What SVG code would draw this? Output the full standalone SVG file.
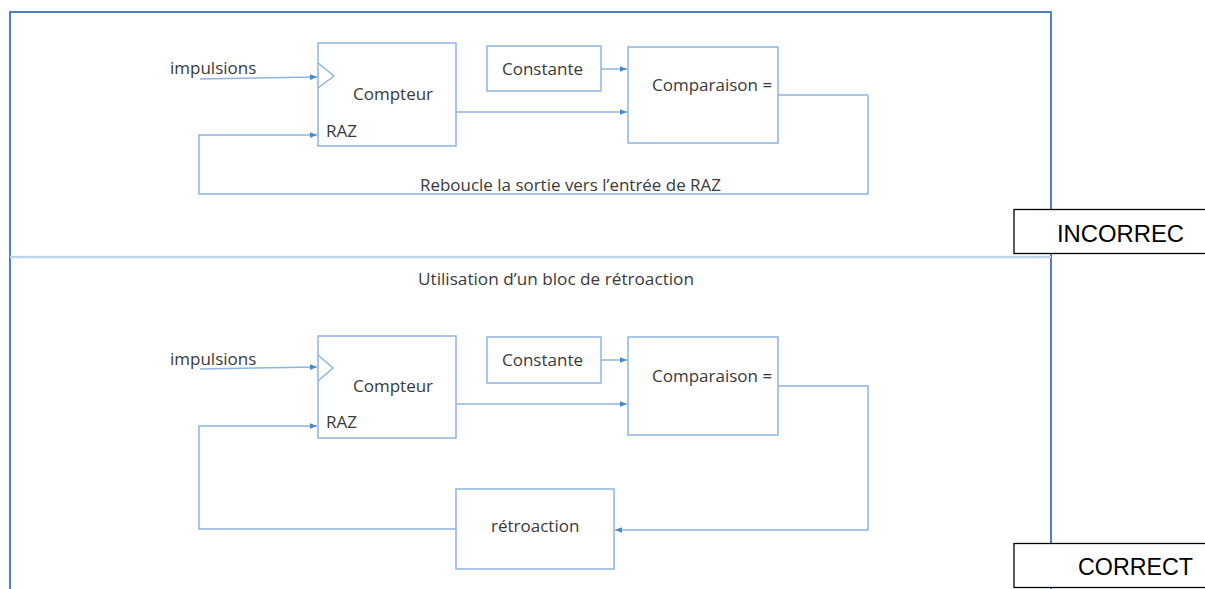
<svg xmlns="http://www.w3.org/2000/svg" width="1205" height="589" viewBox="0 0 1205 589">
<style>
.box{fill:#fff;stroke:#8fb4e0;stroke-width:1.5}
.wire{fill:none;stroke:#8fb4e0;stroke-width:1.5}
.t{font-family:"Open Sans","Liberation Sans",sans-serif;font-size:17px;fill:#3a3a3a}
.s{font-family:"Open Sans","Liberation Sans",sans-serif;font-size:15.5px;fill:#3a3a3a}
.lbl{fill:#fff;stroke:#000;stroke-width:1.3}
.lt{font-family:"Liberation Sans",Arial,sans-serif;font-size:23.5px;fill:#000}
</style>
<defs>
<marker id="ah" viewBox="0 0 10 10" refX="10" refY="5" markerWidth="7" markerHeight="7" markerUnits="userSpaceOnUse" orient="auto">
<path d="M0,1 L10,5 L0,9 z" fill="#4a86c8"/>
</marker>
</defs>
<rect width="1205" height="589" fill="#fff"/>
<g id="frame">
<path d="M10,589 V12 H1051 V589" fill="none" stroke="#4f81bd" stroke-width="2"/>
<line x1="10" y1="257" x2="1051" y2="257" stroke="#bcd5ee" stroke-width="2.5"/>
</g>
<g id="connectors">
<path class="wire" d="M200,79 L317,77" marker-end="url(#ah)"/>
<path class="wire" d="M868,95 H778 M868,95 V194 H199 V135 H317" marker-end="url(#ah)"/>
<path class="wire" d="M601,69 H627" marker-end="url(#ah)"/>
<path class="wire" d="M456,112 H627" marker-end="url(#ah)"/>
<path class="wire" d="M200,369 L317,367" marker-end="url(#ah)"/>
<path class="wire" d="M456,529 H199 V426 H317" marker-end="url(#ah)"/>
<path class="wire" d="M601,360 H627" marker-end="url(#ah)"/>
<path class="wire" d="M456,404 H627" marker-end="url(#ah)"/>
<path class="wire" d="M778,386 H868 V530 H615" marker-end="url(#ah)"/>
</g>
<g id="top-compteur">
<rect class="box" x="318" y="43" width="138" height="103"/>
<path class="wire" d="M318,63 L334,76 L318,88"/>
<text class="t" x="353" y="100">Compteur</text>
<text class="t" x="326" y="137">RAZ</text>
</g>
<g id="top-impulsions"><text class="t" x="170" y="74">impulsions</text></g>
<g id="top-constante">
<rect class="box" x="487" y="46" width="114" height="45"/>
<text class="t" x="502" y="75">Constante</text>
</g>
<g id="top-comparaison">
<rect class="box" x="628" y="47" width="150" height="96"/>
<text class="t" x="652" y="91">Comparaison =</text>
</g>
<g id="top-caption"><text class="s" x="420" y="191" textLength="301" lengthAdjust="spacingAndGlyphs">Reboucle la sortie vers l’entrée de RAZ</text></g>
<g id="incorrect">
<rect class="lbl" x="1014" y="209.5" width="200" height="44"/>
<text class="lt" x="1057" y="242" textLength="127" lengthAdjust="spacingAndGlyphs">INCORREC</text>
</g>
<g id="mid-caption"><text class="s" x="418" y="285" textLength="276" lengthAdjust="spacingAndGlyphs">Utilisation d’un bloc de rétroaction</text></g>
<g id="bot-compteur">
<rect class="box" x="318" y="336" width="138" height="102"/>
<path class="wire" d="M318,355 L333,368 L318,381"/>
<text class="t" x="353" y="392">Compteur</text>
<text class="t" x="326" y="428">RAZ</text>
</g>
<g id="bot-impulsions"><text class="t" x="170" y="365">impulsions</text></g>
<g id="bot-constante">
<rect class="box" x="487" y="337" width="114" height="46"/>
<text class="t" x="502" y="366">Constante</text>
</g>
<g id="bot-comparaison">
<rect class="box" x="628" y="337" width="150" height="98"/>
<text class="t" x="652" y="382">Comparaison =</text>
</g>
<g id="retroaction">
<rect class="box" x="456" y="489" width="158" height="80"/>
<text class="t" x="491" y="532">rétroaction</text>
</g>
<g id="correct">
<rect class="lbl" x="1014" y="543.5" width="200" height="44"/>
<text class="lt" x="1078" y="575" textLength="115" lengthAdjust="spacingAndGlyphs">CORRECT</text>
</g>
</svg>
